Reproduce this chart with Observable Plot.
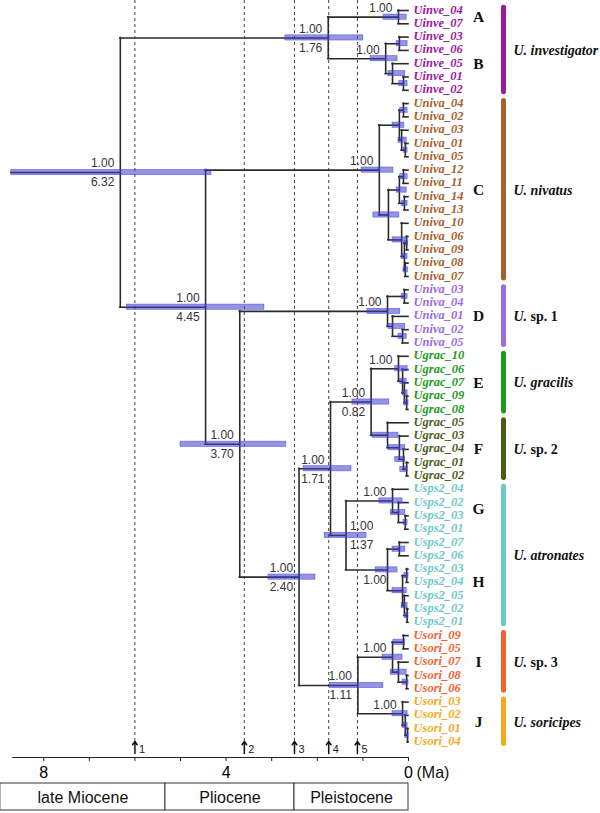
<!DOCTYPE html>
<html><head><meta charset="utf-8">
<script src="https://cdn.jsdelivr.net/npm/d3@7"></script>
<script src="https://cdn.jsdelivr.net/npm/@observablehq/plot@0.6"></script>
<style>body{margin:0;background:#fff}</style>
</head><body><div id="chart"></div>
<script>
// ---------- DATA ----------
const tipNames = [
  "Uinve_04","Uinve_07",
  "Uinve_03","Uinve_06","Uinve_05","Uinve_01","Uinve_02",
  "Univa_04","Univa_02","Univa_03","Univa_01","Univa_05","Univa_12","Univa_11","Univa_14","Univa_13","Univa_10","Univa_06","Univa_09","Univa_08","Univa_07",
  "Univa_03","Univa_04","Univa_01","Univa_02","Univa_05",
  "Ugrac_10","Ugrac_06","Ugrac_07","Ugrac_09","Ugrac_08",
  "Ugrac_05","Ugrac_03","Ugrac_04","Ugrac_01","Ugrac_02",
  "Usps2_04","Usps2_02","Usps2_03","Usps2_01",
  "Usps2_07","Usps2_06","Usps2_03","Usps2_04","Usps2_05","Usps2_02","Usps2_01",
  "Usori_09","Usori_05","Usori_07","Usori_08","Usori_06",
  "Usori_03","Usori_02","Usori_01","Usori_04"
];
const cladeLetters = ["A","B","C","D","E","F","G","H","I","J"];
const cladeSizes   = [2,5,14,5,5,5,4,7,5,4];
const cladeColors  = ["#9b1b9b","#9b1b9b","#a65f30","#9c6ae4","#1f9a1f","#4c5d1a","#6cc9c9","#6cc9c9","#f0632f","#f5aa1c"];

const speciesEpithets = ["investigator","nivatus","sp. 1","gracilis","sp. 2","atronates","sp. 3","soricipes"];
const speciesFirstClade = [0,2,3,4,5,6,8,9];
const speciesLastClade  = [1,2,3,4,5,7,8,9];
const speciesColors = ["#9b1b9b","#a65f30","#9c6ae4","#1f9a1f","#4c5d1a","#6cc9c9","#f0632f","#f5aa1c"];

// internal nodes: [id, children, age (Ma), HPD old, HPD young, support, age label]
const internalNodes = [
  ["root",["inv","n445"],6.32,8.71,4.32,"1.00","6.32"],
  ["inv",["A","B"],1.76,2.70,0.99,"1.00","1.76"],
  ["A",[0,1],0.22,0.55,0.04,"1.00",""],
  ["B",["b1","b2"],0.50,0.83,0.24,"1.00",""],
  ["b1",[2,3],0.20,0.26,0.02,"",""],
  ["b2",[4,"b3"],0.35,0.44,0.07,"",""],
  ["b3",[5,6],0.11,0.20,0.02,"",""],
  ["n445",["C","n370"],4.45,6.18,3.16,"1.00","4.45"],
  ["C",["c1","c2"],0.64,1.03,0.33,"1.00",""],
  ["c1",["c3","c4"],0.20,0.35,0.09,"",""],
  ["c3",[7,8],0.11,0.18,0.02,"",""],
  ["c4",[9,"c5"],0.15,0.22,0.04,"",""],
  ["c5",[10,11],0.07,0.11,0.02,"",""],
  ["c2",["c6","c7"],0.44,0.77,0.20,"",""],
  ["c6",["c8","c9"],0.20,0.26,0.04,"",""],
  ["c8",[12,13],0.11,0.18,0.02,"",""],
  ["c9",[14,15],0.09,0.15,0.02,"",""],
  ["c7",[16,"c10"],0.15,0.35,0.04,"",""],
  ["c10",["c11","c12"],0.09,0.15,0.02,"",""],
  ["c11",[17,18],0.04,0.07,0.01,"",""],
  ["c12",[19,20],0.07,0.11,0.01,"",""],
  ["n370",["D","n240"],3.70,5.00,2.68,"1.00","3.70"],
  ["D",["d1","d2"],0.46,0.90,0.18,"1.00",""],
  ["d1",[21,22],0.09,0.15,0.02,"",""],
  ["d2",[23,"d3"],0.35,0.44,0.07,"",""],
  ["d3",[24,25],0.13,0.22,0.04,"",""],
  ["n240",["n171","n111"],2.40,3.07,2.04,"1.00","2.40"],
  ["n171",["n082","n137"],1.71,2.30,1.25,"1.00","1.71"],
  ["n082",["E","F"],0.82,1.23,0.42,"1.00","0.82"],
  ["E",[26,"e1"],0.22,0.29,0.02,"1.00",""],
  ["e1",[27,"e2"],0.13,0.18,0.04,"",""],
  ["e2",[28,"e3"],0.09,0.13,0.02,"",""],
  ["e3",[29,30],0.04,0.09,0.00,"",""],
  ["F",[31,"f1"],0.46,0.79,0.22,"",""],
  ["f1",[32,"f2"],0.20,0.44,0.07,"",""],
  ["f2",[33,"f3"],0.11,0.29,0.07,"",""],
  ["f3",[34,35],0.04,0.18,0.02,"",""],
  ["n137",["G","H"],1.37,1.84,0.92,"1.00","1.37"],
  ["G",[36,"g1"],0.35,0.64,0.13,"1.00",""],
  ["g1",[37,"g2"],0.22,0.39,0.07,"",""],
  ["g2",[38,39],0.07,0.11,0.02,"",""],
  ["H",["h1","h2"],0.46,0.72,0.24,"1.00",""],
  ["h1",[40,41],0.20,0.35,0.07,"",""],
  ["h2",["h3","h4"],0.13,0.35,0.04,"",""],
  ["h3",[42,43],0.04,0.09,0.00,"",""],
  ["h4",[44,"h5"],0.09,0.15,0.02,"",""],
  ["h5",[45,46],0.03,0.07,0.00,"",""],
  ["n111",["I","J"],1.11,1.73,0.55,"1.00","1.11"],
  ["I",["i1","i2"],0.35,0.57,0.13,"1.00",""],
  ["i1",[47,48],0.11,0.33,0.07,"",""],
  ["i2",[49,"i3"],0.22,0.39,0.04,"",""],
  ["i3",[50,51],0.04,0.13,0.00,"",""],
  ["J",[52,"j1"],0.13,0.35,0.02,"1.00",""],
  ["j1",[53,"j2"],0.07,0.13,0.02,"",""],
  ["j2",[54,55],0.02,0.07,0.00,"",""]
];
const rootStemAge = 8.71;

const eventAges = [6.0, 3.6, 2.5, 1.75, 1.12];
const epochNames = ["late Miocene","Pliocene","Pleistocene"];
const epochOld   = [8.95, 5.33, 2.5];
const epochYoung = [5.33, 2.5, 0];
const axisTicks = [0,1,2,3,4,5,6,7,8];
const axisLabelled = [0,4,8];

// ---------- LAYOUT ----------
const W = 600, H = 813;
const rowTop = 10, rowStep = 13.3;
const row = px => (px - rowTop) / rowStep;
const barHalf = 2.6 / rowStep;

// tips
let k = 0;
const tips = tipNames.map((name, i) => ({name, i}));
cladeSizes.forEach((n, c) => { for (let j = 0; j < n; j++) { tips[k].clade = c; tips[k].color = cladeColors[c]; k++; } });
const cladeFirst = [], cladeLast = [];
{ let s = 0; cladeSizes.forEach((n, c) => { cladeFirst[c] = s; cladeLast[c] = s + n - 1; s += n; }); }

// nodes
const nodes = internalNodes.map(([id, children, age, old, young, support, ageLabel]) => ({id, children, age, old, young, support, ageLabel}));
const nodeMap = Object.fromEntries(nodes.map(n => [n.id, n]));
function yOf(c) {
  if (typeof c === "number") return c;
  const n = nodeMap[c];
  if (n.y == null) n.y = (yOf(n.children[0]) + yOf(n.children[n.children.length - 1])) / 2;
  return n.y;
}
function ageOf(c) { return typeof c === "number" ? 0 : nodeMap[c].age; }
nodes.forEach(n => yOf(n.id));

const hSegs = [], vSegs = [];
nodes.forEach(n => {
  n.children.forEach(c => hSegs.push({y: yOf(c), x1: n.age, x2: ageOf(c)}));
  vSegs.push({x: n.age, y1: yOf(n.children[0]), y2: yOf(n.children[n.children.length - 1])});
});
hSegs.push({y: nodeMap.root.y, x1: rootStemAge, x2: nodeMap.root.age});

const labelled = nodes.filter(n => n.support);
const belowIds = ["H"], rightIds = ["n137"];
const lblNormal = labelled.filter(n => !belowIds.includes(n.id) && !rightIds.includes(n.id));
const lblBelow = labelled.filter(n => belowIds.includes(n.id));
const lblRight = labelled.filter(n => rightIds.includes(n.id));

const species = speciesEpithets.map((ep, s) => ({
  ep, italic: !ep.startsWith("sp."), color: speciesColors[s],
  y1: cladeFirst[speciesFirstClade[s]] - 0.2, y2: cladeLast[speciesLastClade[s]] + 0.15,
  yc: (cladeFirst[speciesFirstClade[s]] + cladeLast[speciesLastClade[s]]) / 2
}));
const clades = cladeLetters.map((L, c) => ({L, y: (cladeFirst[c] + cladeLast[c]) / 2}));

const epochs = epochNames.map((name, i) => ({name, old: epochOld[i], young: epochYoung[i]}));
const events = eventAges.map((a, i) => ({a, n: String(i + 1)}));

const sans = "Liberation Sans, Arial, sans-serif";
const serif = "Liberation Serif, Times New Roman, serif";
const lineCol = "#2b2b2b";

const chart = Plot.plot({
  width: W, height: H,
  marginBottom: 56,
  style: {fontFamily: sans, background: "#fff"},
  x: {domain: [8, 0], range: [43.2, 408], label: null},
  y: {domain: [0, 55], range: [rowTop, rowTop + 55 * rowStep], axis: null},
  color: {type: "identity"},
  marks: [
    // event lines
    Plot.ruleX(events, {x: "a", y1: row(0), y2: row(744), stroke: "#444", strokeWidth: 1, strokeDasharray: "3,3"}),
    // branches
    Plot.ruleY(hSegs, {y: "y", x1: "x1", x2: "x2", stroke: lineCol, strokeWidth: 1.6, strokeLinecap: "square"}),
    Plot.ruleX(vSegs, {x: "x", y1: "y1", y2: "y2", stroke: lineCol, strokeWidth: 1.6, strokeLinecap: "square"}),
    // HPD bars
    Plot.rect(nodes, {x1: "old", x2: "young", y1: d => d.y - barHalf, y2: d => d.y + barHalf,
      fill: "rgb(60,60,212)", fillOpacity: 0.55, stroke: "rgb(70,70,200)", strokeWidth: 0.6, strokeOpacity: 0.8}),
    // node labels
    Plot.text(lblNormal, {x: "age", y: "y", text: "support", textAnchor: "end", dx: -6, dy: -9, fontSize: 12, fill: "#333"}),
    Plot.text(lblNormal.filter(d => d.ageLabel), {x: "age", y: "y", text: "ageLabel", textAnchor: "end", dx: -6, dy: 10, fontSize: 12, fill: "#333"}),
    Plot.text(lblBelow, {x: "age", y: "y", text: "support", textAnchor: "end", dx: -1, dy: 10, fontSize: 12, fill: "#333"}),
    Plot.text(lblRight, {x: "age", y: "y", text: "support", textAnchor: "start", dx: 4, dy: -9, fontSize: 12, fill: "#333"}),
    Plot.text(lblRight, {x: "age", y: "y", text: "ageLabel", textAnchor: "start", dx: 4, dy: 10, fontSize: 12, fill: "#333"}),
    // tip labels
    Plot.text(tips, {x: 0, y: "i", text: "name", fill: "color", textAnchor: "start", dx: 5, dy: -1,
      fontFamily: serif, fontWeight: "bold", fontStyle: "italic", fontSize: 12.5}),
    // clade letters
    Plot.text(clades, {x: 0, y: "y", text: "L", dx: 70, fontFamily: serif, fontWeight: "bold", fontSize: 15.5, fill: "#111"}),
    // species bars & names
    Plot.ruleX(species, {x: 0, y1: "y1", y2: "y2", dx: 95, stroke: "color", strokeWidth: 5, strokeLinecap: "round"}),
    Plot.text(species, {x: 0, y: "yc", text: () => "U.", dx: 105, textAnchor: "start", fontFamily: serif, fontWeight: "bold", fontStyle: "italic", fontSize: 14, fill: "#111"}),
    Plot.text(species.filter(d => d.italic), {x: 0, y: "yc", text: "ep", dx: 122, textAnchor: "start", fontFamily: serif, fontWeight: "bold", fontStyle: "italic", fontSize: 14, fill: "#111"}),
    Plot.text(species.filter(d => !d.italic), {x: 0, y: "yc", text: "ep", dx: 122, textAnchor: "start", fontFamily: serif, fontWeight: "bold", fontSize: 14, fill: "#111"}),
    // event arrows
    Plot.arrow(events, {x1: "a", x2: "a", y1: row(753), y2: row(741), stroke: "#111", strokeWidth: 1.5, headLength: 5, headAngle: 70}),
    Plot.text(events, {x: "a", y: row(749), text: "n", dx: 4, textAnchor: "start", fontSize: 11, fill: "#222"}),
    // time axis
    Plot.ruleY([row(757)], {x1: 8.68, x2: 0, stroke: "#222", strokeWidth: 1}),
    Plot.axisX({ticks: axisTicks, tickFormat: d => axisLabelled.includes(d) ? String(d) : "", tickSize: 4, tickPadding: 5, fontSize: 16, label: null, stroke: "#222"}),
    Plot.text(["(Ma)"], {x: 0, y: row(772), text: d => d, dx: 8, textAnchor: "start", fontSize: 16, fill: "#111"}),
    // epoch boxes
    Plot.rect(epochs, {x1: "old", x2: "young", y1: row(783), y2: row(810), fill: "#fff", stroke: "#333", strokeWidth: 1}),
    Plot.text(epochs, {x: d => (d.old + d.young) / 2, y: row(797), text: "name", fontSize: 16, fill: "#111"})
  ]
});
document.getElementById("chart").appendChild(chart);
</script></body></html>
